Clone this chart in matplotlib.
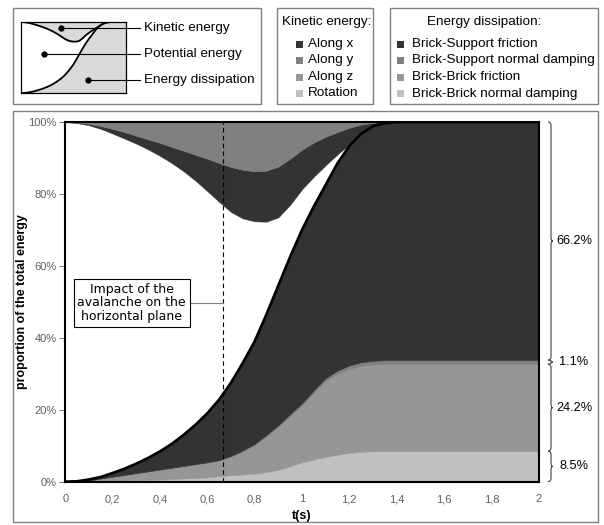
import numpy as np
import matplotlib.pyplot as plt
import matplotlib.transforms as mtransforms
from matplotlib.patches import Rectangle, PathPatch
from matplotlib.path import Path
from matplotlib.lines import Line2D

plt.rcParams['font.family'] = ['Liberation Sans', 'DejaVu Sans']

# time (s)
t = [0, 0.05, 0.1, 0.15, 0.2, 0.25, 0.3, 0.35, 0.4, 0.45, 0.5, 0.55, 0.6, 0.65, 0.7,
     0.75, 0.8, 0.85, 0.9, 0.95, 1.0, 1.05, 1.1, 1.15, 1.2, 1.25, 1.3, 1.35, 1.4,
     1.5, 1.6, 1.7, 1.8, 1.9, 2.0]

# energy dissipation (% of the total energy)
bb_damping = [0, 0, 0.05, 0.1, 0.2, 0.3, 0.4, 0.5, 0.6, 0.75, 0.9, 1.05, 1.2, 1.5, 1.8,
              2.0, 2.2, 2.7, 3.3, 4.3, 5.4, 6.2, 6.9, 7.5, 8.0, 8.3, 8.5, 8.5, 8.5,
              8.5, 8.5, 8.5, 8.5, 8.5, 8.5]
bb_friction = [0, 0.05, 0.25, 0.7, 1.1, 1.5, 1.9, 2.3, 2.7, 3.05, 3.4, 3.75, 4.1, 4.4, 5.2,
               6.4, 8.0, 10.0, 12.0, 14.0, 15.8, 18.5, 21.1, 22.5, 23.3, 23.9, 24.1, 24.2, 24.2,
               24.2, 24.2, 24.2, 24.2, 24.2, 24.2]
bs_damping = [0, 0, 0.05, 0.1, 0.1, 0.1, 0.1, 0.1, 0.1, 0.1, 0.1, 0.1, 0.1, 0.1, 0.2,
              0.3, 0.3, 0.3, 0.4, 0.5, 0.6, 0.7, 0.8, 0.9, 1.0, 1.0, 1.0, 1.1, 1.1,
              1.1, 1.1, 1.1, 1.1, 1.1, 1.1]
bs_friction = [0, 0.05, 0.25, 0.4, 1.0, 1.7, 2.6, 3.7, 5.0, 6.6, 8.6, 10.9, 13.6, 16.8, 20.3,
               24.3, 28.5, 33.5, 38.8, 43.7, 48.2, 51.1, 53.7, 57.6, 61.0, 63.5, 65.2, 65.9, 66.2,
               66.2, 66.2, 66.2, 66.2, 66.2, 66.2]

# potential energy
potential = [100, 99.6, 98.5, 96.8, 94.4, 91.8, 89.0, 85.8, 82.2, 78.1, 73.3, 67.9, 61.8, 55.0, 47.5,
             40.2, 33.4, 25.8, 19.0, 14.5, 11.3, 8.3, 5.5, 2.5, 0.5, 0.1, 0, 0, 0,
             0, 0, 0, 0, 0, 0]

# kinetic energy
kin_x = [0, 0.2, 0.4, 0.8, 1.3, 1.8, 2.2, 2.8, 3.6, 4.5, 5.7, 7.2, 9.0, 10.8, 12.5,
         13.5, 13.9, 14.2, 14.1, 12.8, 11.0, 9.5, 7.9, 6.2, 4.6, 2.5, 1.0, 0.3, 0,
         0, 0, 0, 0, 0, 0]
kin_y = [0, 0.1, 0.5, 1.1, 1.9, 2.8, 3.8, 4.8, 5.8, 6.9, 8.0, 9.1, 10.2, 11.4, 12.5,
         13.3, 13.7, 13.5, 12.4, 10.2, 7.7, 5.7, 4.1, 2.8, 1.6, 0.7, 0.2, 0, 0,
         0, 0, 0, 0, 0, 0]
kin_z = [0, 0, 0, 0, 0, 0, 0, 0, 0, 0, 0, 0, 0, 0, 0, 0, 0, 0,
         0, 0, 0, 0, 0, 0, 0, 0, 0, 0, 0, 0, 0, 0, 0, 0, 0]
kin_rot = [0, 0, 0, 0, 0, 0, 0, 0, 0, 0, 0, 0, 0, 0, 0, 0, 0, 0,
           0, 0, 0, 0, 0, 0, 0, 0, 0, 0, 0, 0, 0, 0, 0, 0, 0]

t_impact = 0.667

kin_labels = ['Along x', 'Along y', 'Along z', 'Rotation']
kin_colors = ['#333333', '#808080', '#969696', '#c0c0c0']
diss_labels = ['Brick-Support friction', 'Brick-Support normal damping',
               'Brick-Brick friction', 'Brick-Brick normal damping']
diss_colors = ['#333333', '#808080', '#969696', '#c0c0c0']

x_ticks = [0, 0.2, 0.4, 0.6, 0.8, 1, 1.2, 1.4, 1.6, 1.8, 2]
x_ticklabels = ['0', '0,2', '0,4', '0,6', '0,8', '1', '1,2', '1,4', '1,6', '1,8', '2']
y_ticks = [0, 20, 40, 60, 80, 100]

t = np.array(t)
diss_total = (np.array(bb_damping) + np.array(bb_friction)
              + np.array(bs_damping) + np.array(bs_friction))
pot_top = diss_total + np.array(potential)

W, H = 604, 525
fig = plt.figure(figsize=(W / 100, H / 100), dpi=100)


def fx(px):
    return px / W


def fy(py):
    return 1 - py / H


def frame(x0, y0, x1, y1, **kw):
    fig.add_artist(Rectangle((fx(x0), fy(y1)), (x1 - x0) / W, (y1 - y0) / H,
                             transform=fig.transFigure, fill=False, **kw))


# outer frames
frame(13, 111, 598, 522, ec='#808080', lw=1)
frame(13, 8, 261, 104, ec='#808080', lw=1)
frame(277, 8, 373, 104, ec='#808080', lw=1)
frame(390, 8, 598, 104, ec='#808080', lw=1)

# main chart
ax = fig.add_axes([fx(65.3), fy(481.7), 473.4 / W, 359.7 / H])
ax.stackplot(t, bb_damping, bb_friction, bs_damping, bs_friction, potential,
             kin_x, kin_y, kin_z, kin_rot,
             colors=[diss_colors[3], diss_colors[2], diss_colors[1], diss_colors[0], 'white',
                     kin_colors[0], kin_colors[1], kin_colors[2], kin_colors[3]],
             linewidth=0.4, edgecolor='face')
ax.plot(t, diss_total, color='black', lw=2, solid_capstyle='butt')
ax.axvline(t_impact, color='black', lw=0.8, ls=(0, (4, 3)))

ax.set_xlim(0, 2)
ax.set_ylim(0, 100)
for s in ax.spines.values():
    s.set_color('black')
    s.set_linewidth(1.5)
ax.set_xticks(x_ticks)
ax.set_xticklabels(x_ticklabels)
ax.set_yticks(y_ticks)
ax.set_yticklabels(['%d%%' % v for v in y_ticks])
ax.tick_params(axis='x', length=0, pad=9, labelsize=8, labelcolor='#606060')
ax.tick_params(axis='y', length=4, width=0.8, color='#808080', pad=2,
               labelsize=8, labelcolor='#606060')

fig.text(fx(22.5), fy(302), 'proportion of the total energy', rotation=90,
         ha='center', va='center', fontsize=9, fontweight='bold')
fig.text(fx(302), fy(516), 't(s)', ha='center', va='center', fontsize=9, fontweight='bold')

# impact annotation
ax.text(0.28, 49.7, 'Impact of the\navalanche on the\nhorizontal plane', ha='center', va='center',
        family='DejaVu Sans', fontsize=9, linespacing=1.05,
        bbox=dict(boxstyle='square,pad=0.3', fc='white', ec='black', lw=0.8))
ax.plot([0.532, t_impact], [49.7, 49.7], color='#808080', lw=0.8)

# braces with final shares on the right
final = [bb_damping[-1], bb_friction[-1], bs_damping[-1], bs_friction[-1]]
trans = mtransforms.blended_transform_factory(ax.transAxes, ax.transData)
bx, hw = 1.026, 0.0065
lo = 0.0
for v in final:
    hi = lo + v
    mid = (lo + hi) / 2
    d = min(1.0, v / 4)
    verts = [(bx - hw, hi), (bx, hi), (bx, hi - d),
             (bx, mid + d),
             (bx, mid), (bx + hw * 0.6, mid),
             (bx, mid), (bx, mid - d),
             (bx, lo + d),
             (bx, lo), (bx - hw, lo)]
    codes = [Path.MOVETO, Path.CURVE3, Path.CURVE3,
             Path.LINETO,
             Path.CURVE3, Path.CURVE3,
             Path.CURVE3, Path.CURVE3,
             Path.LINETO,
             Path.CURVE3, Path.CURVE3]
    ax.add_patch(PathPatch(Path(verts, codes), transform=trans, fill=False,
                           ec='#404040', lw=0.8, clip_on=False))
    ax.text(1.0746, mid, '%.1f%%' % v, transform=trans, ha='center', va='center',
            fontsize=9.2, clip_on=False)
    lo = hi

# legend 1: schematic of the three energy shares
ins = fig.add_axes([fx(21), fy(93), 105 / W, 71 / H])
ins.set_facecolor('#d9d9d9')
ins.fill_between(t, diss_total, pot_top, color='white', lw=0)
ins.plot(t, diss_total, color='black', lw=1.3)
ins.plot(t, pot_top, color='black', lw=1.3)
ins.set_xlim(0, 1.62)
ins.set_ylim(0, 100)
ins.set_xticks([])
ins.set_yticks([])
for s in ins.spines.values():
    s.set_linewidth(0.9)

for (dx, dy), label, ty in zip([(61, 28), (44, 54), (88, 80)],
                               ['Kinetic energy', 'Potential energy', 'Energy dissipation'],
                               [28, 54, 80]):
    fig.add_artist(Line2D([fx(dx), fx(140)], [fy(dy), fy(ty)], color='black', lw=0.8,
                          transform=fig.transFigure))
    fig.add_artist(Line2D([fx(dx)], [fy(dy)], color='black', marker='o', ms=3.5,
                          transform=fig.transFigure))
    fig.text(fx(144), fy(ty), label, va='center', fontsize=9.7)

# legend 2: kinetic energy components
fig.text(fx(326.7), fy(22), 'Kinetic energy:', ha='center', va='center', fontsize=9.7)
for i, (label, c) in enumerate(zip(kin_labels, kin_colors)):
    y = 44 + i * 16.5
    fig.add_artist(Rectangle((fx(295.5), fy(y + 3.5)), 7 / W, 7 / H, fc=c, ec='none',
                             transform=fig.transFigure))
    fig.text(fx(308), fy(y), label, va='center', fontsize=9.7)

# legend 3: energy dissipation components
fig.text(fx(484), fy(22), 'Energy dissipation:', ha='center', va='center', fontsize=9.7)
for i, (label, c) in enumerate(zip(diss_labels, diss_colors)):
    y = 44 + i * 16.5
    fig.add_artist(Rectangle((fx(397.5), fy(y + 3.5)), 7 / W, 7 / H, fc=c, ec='none',
                             transform=fig.transFigure))
    fig.text(fx(412), fy(y), label, va='center', fontsize=9.7)

fig.savefig('out.png', dpi=100)
